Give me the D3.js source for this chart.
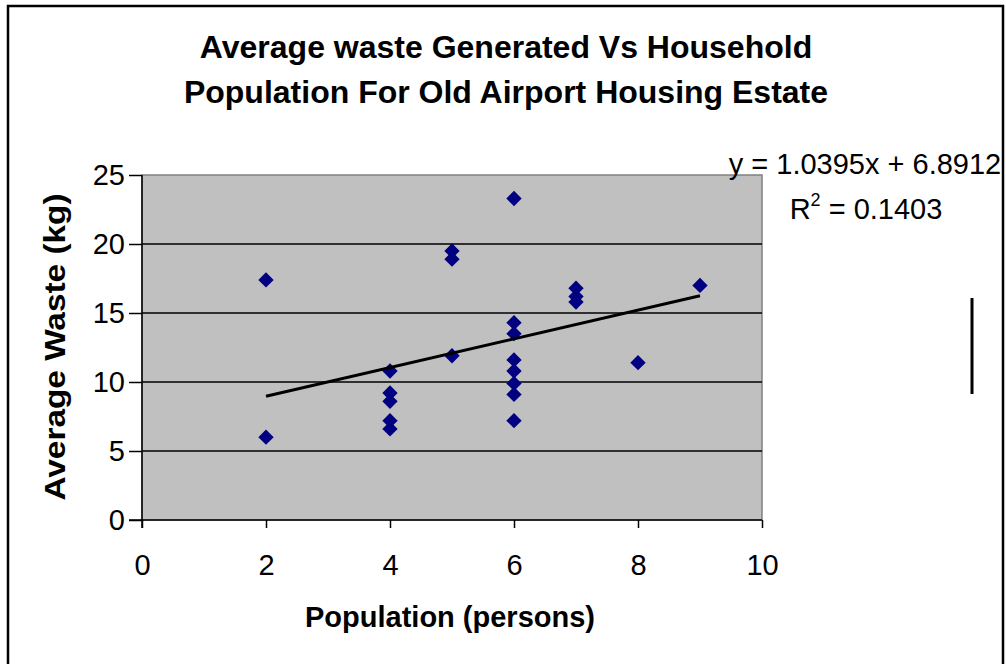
<!DOCTYPE html>
<html>
<head>
<meta charset="utf-8">
<script src="https://cdn.jsdelivr.net/npm/d3@7"></script>
<style>
  html, body { margin: 0; padding: 0; background: #fff; }
  svg { display: block; font-family: "Liberation Sans", Arial, sans-serif; }
</style>
</head>
<body>
<svg id="chart" width="1006" height="664"></svg>
<script>
// Household size (persons) and average waste generated (kg)
const population = [2, 2, 4, 4, 4, 4, 4, 5, 5, 5, 6, 6, 6, 6, 6, 6, 6, 6, 7, 7, 7, 8, 9];
const avgWaste   = [17.4, 6.0, 10.8, 9.2, 8.6, 7.2, 6.6, 19.5, 18.9, 11.9,
                    23.3, 14.3, 13.5, 11.6, 10.8, 9.9, 9.1, 7.2, 16.8, 16.2, 15.8, 11.4, 17.0];

// Linear trendline
const slope = 1.0395, intercept = 6.8912, rSquared = 0.1403;

const xTicks = [0, 2, 4, 6, 8, 10];
const yTicks = [0, 5, 10, 15, 20, 25];

const titleLines = ["Average waste Generated Vs Household", "Population For Old Airport Housing Estate"];

const svg = d3.select("#chart");
const plot = { left: 142, top: 175, right: 762, bottom: 520 };
const FONT = "Liberation Sans, Arial, sans-serif";

const x = d3.scaleLinear().domain([0, 10]).range([plot.left, plot.right]);
const y = d3.scaleLinear().domain([0, 25]).range([plot.bottom, plot.top]);

// Outer frame
svg.append("path")
  .attr("d", "M8,670 V6 H1003 V670")
  .attr("fill", "none").attr("stroke", "#000").attr("stroke-width", 2.5);

// Plot background
svg.append("rect")
  .attr("x", plot.left).attr("y", plot.top)
  .attr("width", plot.right - plot.left).attr("height", plot.bottom - plot.top)
  .attr("fill", "#c0c0c0").attr("stroke", "#808080").attr("stroke-width", 1.5);

// Horizontal gridlines
svg.append("g").selectAll("line")
  .data(yTicks.filter(d => d > 0 && d < 25))
  .join("line")
  .attr("x1", plot.left).attr("x2", plot.right)
  .attr("y1", d => y(d)).attr("y2", d => y(d))
  .attr("stroke", "#000").attr("stroke-width", 1.5);

// Y axis
const yAxis = svg.append("g")
  .attr("transform", `translate(${plot.left},0)`)
  .call(d3.axisLeft(y).tickValues(yTicks).tickSize(13).tickPadding(4).tickFormat(d3.format("d")));
yAxis.select(".domain").attr("stroke", "#000").attr("stroke-width", 1.5).attr("d", `M0,${plot.top}V${plot.bottom + 8}`);
yAxis.selectAll(".tick line").attr("stroke", "#000").attr("stroke-width", 1.5);
yAxis.selectAll(".tick text").attr("font-size", 29).attr("fill", "#000").attr("font-family", FONT);

// X axis
const xAxis = svg.append("g")
  .attr("transform", `translate(0,${plot.bottom})`)
  .call(d3.axisBottom(x).tickValues(xTicks).tickSize(8).tickPadding(26).tickFormat(d3.format("d")));
xAxis.select(".domain").attr("stroke", "#000").attr("stroke-width", 1.5).attr("d", `M${plot.left - 13},0H${plot.right}`);
xAxis.selectAll(".tick line").attr("stroke", "#000").attr("stroke-width", 1.5);
xAxis.selectAll(".tick text").attr("font-size", 29).attr("fill", "#000").attr("font-family", FONT);

// Data points (diamonds)
const diamond = d3.symbol().type(d3.symbolDiamond2).size(150);
svg.append("g").selectAll("path")
  .data(population.map((p, i) => [p, avgWaste[i]]))
  .join("path")
  .attr("d", diamond)
  .attr("transform", d => `translate(${x(d[0])},${y(d[1])})`)
  .attr("fill", "#000080");

// Trendline across the observed range
const xMin = d3.min(population), xMax = d3.max(population);
svg.append("line")
  .attr("x1", x(xMin)).attr("y1", y(slope * xMin + intercept))
  .attr("x2", x(xMax)).attr("y2", y(slope * xMax + intercept))
  .attr("stroke", "#000").attr("stroke-width", 3);

// Trendline equation
svg.append("text")
  .attr("x", 865).attr("y", 174).attr("text-anchor", "middle")
  .attr("font-size", 29).attr("fill", "#000")
  .text(`y = ${slope}x + ${intercept}`);
const r2 = svg.append("text")
  .attr("x", 866).attr("y", 219).attr("text-anchor", "middle")
  .attr("font-size", 29).attr("fill", "#000");
r2.append("tspan").text("R");
r2.append("tspan").attr("font-size", 18).attr("dy", -13).text("2");
r2.append("tspan").attr("dy", 13).text(` = ${rSquared}`);

// Title
svg.append("g").selectAll("text")
  .data(titleLines)
  .join("text")
  .attr("x", 506).attr("y", (d, i) => 58 + i * 45)
  .attr("text-anchor", "middle")
  .attr("font-size", 32).attr("font-weight", "bold").attr("fill", "#000")
  .text(d => d);

// Axis titles
svg.append("text")
  .attr("x", 450).attr("y", 627).attr("text-anchor", "middle")
  .attr("font-size", 29).attr("font-weight", "bold").attr("fill", "#000")
  .text("Population (persons)");
svg.append("text")
  .attr("transform", "translate(65,347) rotate(-90) scale(1.15,1)")
  .attr("text-anchor", "middle")
  .attr("font-size", 29).attr("font-weight", "bold").attr("fill", "#000")
  .text("Average Waste (kg)");

// Stray vertical bar at right of frame
svg.append("line")
  .attr("x1", 972).attr("x2", 972).attr("y1", 298).attr("y2", 394)
  .attr("stroke", "#000").attr("stroke-width", 3);
</script>
</body>
</html>
